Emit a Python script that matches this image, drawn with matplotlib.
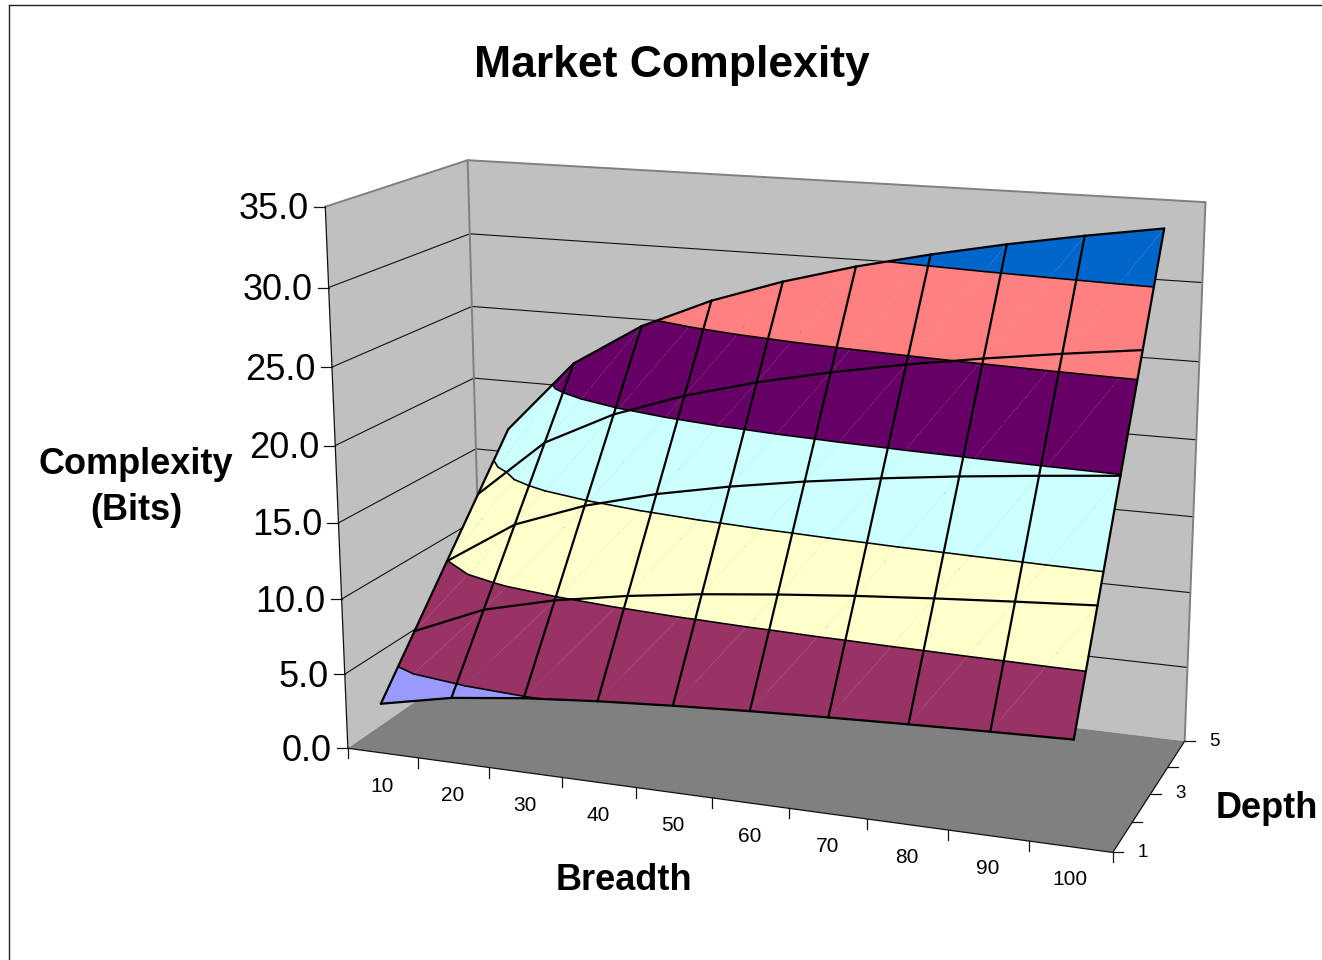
import numpy as np
import matplotlib
matplotlib.use("Agg")
import matplotlib.pyplot as plt
from matplotlib.lines import Line2D
from matplotlib.transforms import Affine2D
from mpl_toolkits.mplot3d.art3d import Poly3DCollection, Line3DCollection

plt.rcParams['font.family'] = ['Liberation Sans', 'DejaVu Sans']

WIDTH, HEIGHT = 1322, 960

# Chart values: complexity in bits, one row per depth, one column per breadth.
breadth = [10, 20, 30, 40, 50, 60, 70, 80, 90, 100]
depth = [1, 2, 3, 4, 5]
complexity = np.array([
    [3.32, 4.32, 4.91, 5.32, 5.64, 5.91, 6.13, 6.32, 6.49, 6.64],
    [6.64, 8.64, 9.81, 10.64, 11.29, 11.81, 12.26, 12.64, 12.98, 13.29],
    [9.97, 12.97, 14.72, 15.97, 16.93, 17.72, 18.39, 18.97, 19.47, 19.93],
    [13.29, 17.29, 19.63, 21.29, 22.58, 23.63, 24.52, 25.29, 25.97, 26.58],
    [16.61, 21.61, 24.54, 26.61, 28.22, 29.54, 30.64, 31.61, 32.46, 33.22],
])
z_ticks = [0, 5, 10, 15, 20, 25, 30, 35]
z_labels = ['0.0', '5.0', '10.0', '15.0', '20.0', '25.0', '30.0', '35.0']
depth_labels = {0: '1', 2: '3', 4: '5'}
band_edges = [0, 5, 10, 15, 20, 25, 30, 35]
band_colors = ['#9999FF', '#993366', '#FFFFCC', '#CCFFFF', '#660066', '#FF8080', '#0066CC']

X_MAX, Y_MAX, Z_MAX = len(breadth), len(depth) - 1, z_ticks[-1]

# Calibration of the camera: (world x, y, z) -> (pixel x, pixel y).
CALIBRATION = [
    (0, 0, 0, 347, 749), (10, 0, 0, 1113, 852), (10, 4, 0, 1185, 741),
    (0, 0, 35, 325, 207), (0, 4, 35, 467, 160), (10, 4, 35, 1205, 202),
    (0, 0, 5, 345, 673), (0, 0, 10, 343, 598), (0, 0, 15, 340, 523),
    (0, 0, 20, 336, 445), (0, 0, 25, 332, 367), (0, 0, 30, 328, 288),
    (10, 4, 5, 1188, 667), (10, 4, 10, 1190, 594), (10, 4, 15, 1193, 518),
    (10, 4, 20, 1196, 440), (10, 4, 25, 1200, 362), (10, 4, 30, 1203, 282),
    (0, 4, 30, 469, 234), (0, 4, 25, 472, 306), (0, 4, 20, 474, 378), (0, 4, 15, 477, 449),
    (2, 0, 0, 488, 768), (5, 0, 0, 712, 800), (8, 0, 0, 947, 830),
    (10, 1, 0, 1132, 822), (10, 2, 0, 1150, 793), (10, 3, 0, 1168, 766),
    (0.5, 0, 3.32, 380, 704), (9.5, 0, 6.64, 1074, 740), (9.5, 4, 33.22, 1164, 229),
    (0.5, 4, 16.61, 508, 429), (4.5, 0, 5.64, 673, 706), (4.5, 4, 28.22, 783, 282),
    (9.5, 2, 19.93, 1121, 474), (0.5, 2, 9.97, 447, 561), (4.5, 2, 16.93, 729, 487),
]


def fit_camera(samples):
    rows, rhs = [], []
    for x, y, z, u, v in samples:
        rows.append([x, y, z, 1, 0, 0, 0, 0, -u * x, -u * y, -u * z])
        rows.append([0, 0, 0, 0, x, y, z, 1, -v * x, -v * y, -v * z])
        rhs += [u, v]
    h = np.linalg.lstsq(np.array(rows, float), np.array(rhs, float), rcond=None)[0]
    return np.append(h, 1.0).reshape(3, 4)


CAMERA = fit_camera(CALIBRATION)


def to_pixel(x, y, z):
    p = CAMERA @ np.array([x, y, z, 1.0])
    return p[0] / p[2], p[1] / p[2]


fig = plt.figure(figsize=(WIDTH / 100, HEIGHT / 100), dpi=100, facecolor='white')
pixels = Affine2D().scale(1, -1).translate(0, HEIGHT)

# A square 3D axes as wide as the figure, so every projected point stays inside it.
side = WIDTH / HEIGHT
ax = fig.add_axes([0, 0.5 - side / 2, 1, side], projection='3d')
ax.set_axis_off()
ax.computed_zorder = False


def view_matrix():
    # Camera output is in pixels; convert to the axes' internal 2D coordinates.
    inv = ax.transData.inverted()
    (u0, v0), (u1, v1) = inv.transform([(0, HEIGHT), (WIDTH, 0)])
    sx, sy = (u1 - u0) / WIDTH, (v1 - v0) / HEIGHT
    w = CAMERA[2]
    m = np.zeros((4, 4))
    m[0] = sx * CAMERA[0] + u0 * w
    m[1] = sy * CAMERA[1] + v0 * w
    m[2] = [0.0, 0.1, 0.0, 1.0]
    m[3] = w
    return m


ax.get_proj = view_matrix

WALL = '#C0C0C0'
FLOOR = '#808080'
EDGE = '#808080'


def add_polys(polys, colors, zorder):
    c = Poly3DCollection(polys, facecolors=colors, edgecolors='none', linewidths=0, zorder=zorder)
    c.set_antialiased(True)
    ax.add_collection3d(c, autolim=False)


def add_lines(segs, color, lw, zorder):
    ax.add_collection3d(Line3DCollection(segs, colors=color, linewidths=lw, zorder=zorder,
                                         capstyle='round', joinstyle='round'), autolim=False)


# Walls and floor
add_polys([[(0, 0, 0), (0, Y_MAX, 0), (0, Y_MAX, Z_MAX), (0, 0, Z_MAX)],
           [(0, Y_MAX, 0), (X_MAX, Y_MAX, 0), (X_MAX, Y_MAX, Z_MAX), (0, Y_MAX, Z_MAX)]],
          [WALL, WALL], 1)
add_polys([[(0, 0, 0), (X_MAX, 0, 0), (X_MAX, Y_MAX, 0), (0, Y_MAX, 0)]], [FLOOR], 1.5)

# Gridlines across the walls
wall_grid = []
for z in z_ticks[1:-1]:
    wall_grid.append([(0, 0, z), (0, Y_MAX, z)])
    wall_grid.append([(0, Y_MAX, z), (X_MAX, Y_MAX, z)])
add_lines(wall_grid, '#111111', 0.8, 1.2)

# Wall outlines
add_lines([[(0, 0, Z_MAX), (0, Y_MAX, Z_MAX)], [(0, Y_MAX, Z_MAX), (X_MAX, Y_MAX, Z_MAX)],
           [(X_MAX, Y_MAX, Z_MAX), (X_MAX, Y_MAX, 0)], [(0, Y_MAX, Z_MAX), (0, Y_MAX, 0)]],
          EDGE, 1.4, 1.3)

# Axis lines
add_lines([[(0, 0, 0), (0, 0, Z_MAX)], [(0, 0, 0), (X_MAX, 0, 0)], [(X_MAX, 0, 0), (X_MAX, Y_MAX, 0)]],
          '#111111', 0.9, 1.6)


def clip_band(tri, lo, hi):
    def clip(poly, level, keep_above):
        out = []
        n = len(poly)
        for k in range(n):
            a, b = poly[k], poly[(k + 1) % n]
            ina = a[2] >= level if keep_above else a[2] <= level
            inb = b[2] >= level if keep_above else b[2] <= level
            if ina:
                out.append(a)
            if ina != inb:
                t = (level - a[2]) / (b[2] - a[2])
                out.append(tuple(a[d] + t * (b[d] - a[d]) for d in range(3)))
        return out
    poly = clip(list(tri), lo, True)
    return clip(poly, hi, False) if poly else []


def level_segment(tri, level):
    pts = []
    for k in range(3):
        a, b = tri[k], tri[(k + 1) % 3]
        if (a[2] - level) * (b[2] - level) < 0:
            t = (level - a[2]) / (b[2] - a[2])
            pts.append(tuple(a[d] + t * (b[d] - a[d]) for d in range(3)))
    return pts if len(pts) == 2 else None


xs = np.arange(len(breadth)) + 0.5
ys = np.arange(len(depth), dtype=float)


def node(i, j):
    return (xs[i], ys[j], complexity[j, i])


# Surface: every cell is split along a diagonal, then cut into value bands
polys, colors, contours = [], [], []
for j in range(len(depth) - 1):
    for i in range(len(breadth) - 1):
        a, b, c, d = node(i, j), node(i + 1, j), node(i + 1, j + 1), node(i, j + 1)
        for tri in ((a, b, c), (a, c, d)):
            for lo, hi, col in zip(band_edges[:-1], band_edges[1:], band_colors):
                piece = clip_band(tri, lo, hi)
                if len(piece) >= 3:
                    polys.append(piece)
                    colors.append(col)
            for level in band_edges[1:-1]:
                seg = level_segment(tri, level)
                if seg:
                    contours.append(seg)
add_polys(polys, colors, 5)
add_lines(contours, 'black', 1.15, 6)

mesh = []
for j in range(len(depth)):
    mesh += [[node(i, j), node(i + 1, j)] for i in range(len(breadth) - 1)]
for i in range(len(breadth)):
    mesh += [[node(i, j), node(i, j + 1)] for j in range(len(depth) - 1)]
add_lines(mesh, 'black', 1.6, 7)


# Tick marks and labels are placed relative to the projected axis positions
def tick(x, y, z, dx, dy):
    px, py = to_pixel(x, y, z)
    fig.add_artist(Line2D([px, px + dx], [py, py + dy], color='#111111', lw=0.9, transform=pixels))


def label(px, py, s, size, weight='normal', ha='center'):
    fig.text(px, py, s, fontsize=size, fontweight=weight, ha=ha, va='center',
             color='black', transform=pixels)


for z, s in zip(z_ticks, z_labels):
    tick(0, 0, z, -11, 0)
    px, py = to_pixel(0, 0, z)
    label(px - 16, py + 3, s, 26, ha='right')

for i in range(len(breadth) + 1):
    tick(i, 0, 0, 0, 10)
for i, b in enumerate(breadth):
    px, py = to_pixel(i + 0.5, 0, 0)
    label(px - 0.5, py + 33, str(b), 15)

for j in range(len(depth)):
    tick(X_MAX, j, 0, 10, 0)
    if j in depth_labels:
        px, py = to_pixel(X_MAX, j, 0)
        label(px + 30, py, depth_labels[j], 13.5)

label(672, 66, 'Market Complexity', 32, 'bold')
label(136, 465, 'Complexity', 26, 'bold')
label(136, 511, '(Bits)', 26, 'bold')
label(623.5, 881, 'Breadth', 26, 'bold')
label(1267, 809, 'Depth', 26, 'bold')

# Chart frame; its right and bottom sides fall outside the figure
fig.add_artist(Line2D([9, 9], [HEIGHT, 5], color='#222222', lw=1.0, transform=pixels))
fig.add_artist(Line2D([9, WIDTH], [5, 5], color='#222222', lw=1.0, transform=pixels))

fig.savefig('out.png', dpi=100, facecolor='white')
